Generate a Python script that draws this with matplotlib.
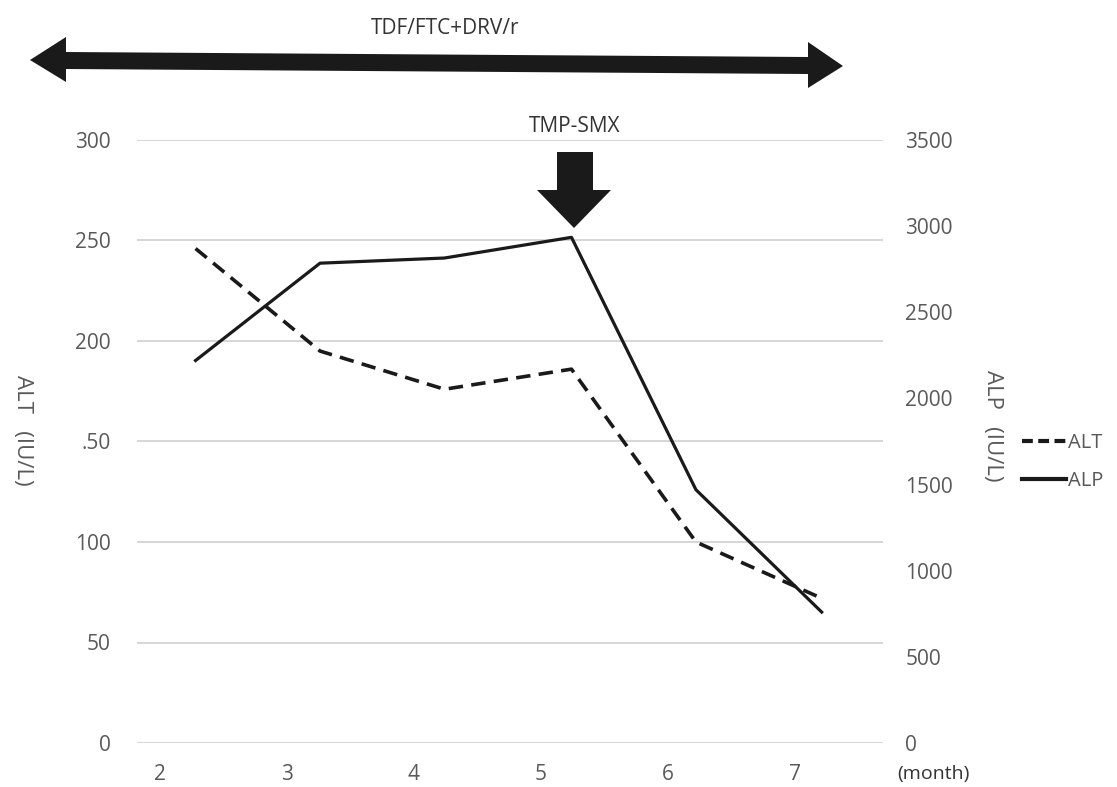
import matplotlib
matplotlib.use("Agg")
import matplotlib.pyplot as plt
from matplotlib.patches import Polygon
from matplotlib.lines import Line2D

# data
months = [2, 3, 4, 5, 6, 7]
month_labels = ['2', '3', '4', '5', '6', '7']
sample_time = [2.28, 3.26, 4.24, 5.24, 6.22, 7.21]
alt_values = [246, 195, 176, 186, 100, 72]
alp_values = [2220, 2785, 2815, 2935, 1470, 760]

alt_ticks = [0, 50, 100, 150, 200, 250, 300]
alt_tick_labels = ['0', '50', '100', '.50', '200', '250', '300']
alp_ticks = [0, 500, 1000, 1500, 2000, 2500, 3000, 3500]

W, H = 1117, 787
GRAY = '#595959'
INK = '#1a1a1a'

plt.rcParams['font.family'] = ['Open Sans', 'DejaVu Sans']


def px(x, y):
    """pixel position (top-left origin) -> figure fraction"""
    return x / W, 1 - y / H


fig = plt.figure(figsize=(W / 100, H / 100), dpi=100)
ax = fig.add_axes([137 / W, 1 - 743 / H, (883 - 137) / W, (743 - 140) / H])
ax2 = ax.twinx()

ax.plot(sample_time, alt_values, color=INK, lw=2.6, linestyle=(0, (4, 2.3)),
        solid_capstyle='butt', zorder=3)
ax2.plot(sample_time, alp_values, color=INK, lw=2.3, zorder=3)

ax.set_xlim(2 - 23 / 127, 7 + 88 / 127)
ax.set_ylim(0, 300)
ax2.set_ylim(0, 3500)

ax.set_xticks(months)
ax.set_xticklabels(month_labels)
ax.set_yticks(alt_ticks)
ax.set_yticklabels(alt_tick_labels)
ax2.set_yticks(alp_ticks)

ax.grid(axis='y', color='#d0d0d0', lw=1.2)
ax.set_axisbelow(True)

for a in (ax, ax2):
    for s in a.spines.values():
        s.set_visible(False)
ax.tick_params(axis='y', length=0, pad=19, labelsize=15, labelcolor=GRAY)
ax.tick_params(axis='x', length=0, pad=15, labelsize=15, labelcolor=GRAY)
ax2.tick_params(axis='y', length=0, pad=16, labelsize=15, labelcolor=GRAY)

# axis titles
fig.text(*px(22, 430), 'ALT   (IU/L)', rotation=-90, ha='center', va='center',
         fontsize=16, color=GRAY)
fig.text(*px(993, 426), 'ALP   (IU/L)', rotation=-90, ha='center', va='center',
         fontsize=16, color=GRAY)
fig.text(*px(933, 774), '(month)', ha='center', va='center', fontsize=14,
         color='#333333')

# legend
handles = [Line2D([], [], color=INK, lw=3, linestyle=(0, (2.6, 1.3))),
           Line2D([], [], color=INK, lw=3)]
fig.legend(handles, ['ALT', 'ALP'], loc='center left',
           bbox_to_anchor=px(1022, 462), frameon=False, fontsize=14.5,
           handlelength=2.2, handletextpad=0.1, labelspacing=0.9,
           labelcolor=GRAY, borderaxespad=0, borderpad=0)

# treatment double arrow
double_arrow = [(30, 60), (66, 37), (66, 52), (808, 57), (808, 42), (843, 66),
                (808, 88), (808, 74), (66, 69), (66, 82)]
fig.patches.append(Polygon([px(x, y) for x, y in double_arrow], closed=True,
                           transform=fig.transFigure, color=INK, lw=0))
fig.text(*px(445, 28), 'TDF/FTC+DRV/r', ha='center', va='center', fontsize=15,
         color='#333333')

# TMP-SMX start arrow
down_arrow = [(557, 152), (593, 152), (593, 190), (611, 190), (574, 228),
              (537, 190), (557, 190)]
fig.patches.append(Polygon([px(x, y) for x, y in down_arrow], closed=True,
                           transform=fig.transFigure, color=INK, lw=0))
fig.text(*px(575, 127), 'TMP-SMX', ha='center', va='center', fontsize=15,
         color='#333333')

fig.savefig('out.png', dpi=100)
